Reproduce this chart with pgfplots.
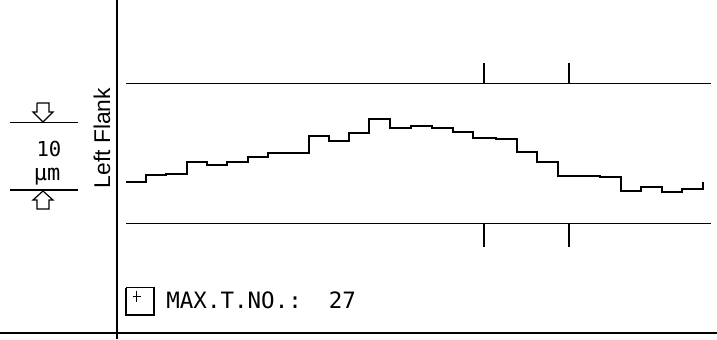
\documentclass[border=0pt]{standalone}
\usepackage{pgfplots}
\pgfplotsset{compat=1.18}
\usepackage{fontspec}
\setmainfont{Liberation Sans}
\newfontfamily\plotter{DejaVu Sans Mono}
\newfontfamily\labelfont{Liberation Sans}
\begin{document}
\begin{tikzpicture}
\useasboundingbox (0,0) rectangle (358.5pt,169.5pt);
\begin{axis}[
  scale only axis, width=358.5pt, height=169.5pt,
  xmin=0, xmax=717, ymin=0, ymax=339, y dir=reverse,
  hide axis, clip=false,
]
% frame lines
\addplot[black, line width=1pt] coordinates {(117,0) (117,339)};
\addplot[black, line width=1.1pt] coordinates {(0,333.3) (717,333.3)};
% tolerance / reference lines
\addplot[black, line width=0.65pt] coordinates {(126,83.5) (711,83.5)};
\addplot[black, line width=0.65pt] coordinates {(126,223.8) (711,223.8)};
% tick marks
\addplot[black, line width=0.65pt] coordinates {(484,63) (484,83.5)};
\addplot[black, line width=0.65pt] coordinates {(569,63) (569,83.5)};
\addplot[black, line width=0.65pt] coordinates {(484,223.8) (484,247)};
\addplot[black, line width=0.65pt] coordinates {(569,223.8) (569,247)};
% measured profile
\addplot[black, line width=1pt, const plot] coordinates {
(126,182)(146,175)(166,173.5)(187,161.7)(207,165)(227,162)(248,157)(268,152.7)
(309,136)(329,140.7)(349,133)(369,119.3)(390,127.7)(411,125.7)(432,128.3)
(453,131.7)(473,137.7)(496,139)(517,152.3)(537,161.7)(558,176.2)(600,177.3)
(621,191)(641,186.7)(662,192)(682,189.3)(703,189.3)(703,182.3)};
% scale bar
\addplot[black, line width=0.6pt] coordinates {(10,122.7) (78,122.7)};
\addplot[black, line width=0.6pt] coordinates {(10,190) (78,190)};
\addplot[black, line width=0.6pt] coordinates {(37,103) (49,103) (49,112) (53,112) (43,122) (33,112) (37,112) (37,103)};
\addplot[black, line width=0.6pt] coordinates {(43,191) (53,200) (49,200) (49,209) (37,209) (37,200) (33,200) (43,191)};
\node[anchor=base, inner sep=0pt, font=\plotter\fontsize{10.3}{12}\selectfont] at (axis cs:49,156) {10};
\node[anchor=base, inner sep=0pt, font=\plotter\fontsize{11}{13}\selectfont] at (axis cs:47,180) {µm};
\node[anchor=base, rotate=90, inner sep=0pt, font=\labelfont\fontsize{11.4}{13}\selectfont] at (axis cs:110,138) {Left Flank};
% legend box
\addplot[black, line width=0.6pt] coordinates {(126,287.5) (154,287.5) (154,315) (126,315) (126,287.5)};
\addplot[black, line width=0.5pt] coordinates {(132.5,296) (140.5,296)};
\addplot[black, line width=0.5pt] coordinates {(136.5,290.5) (136.5,302)};
\node[anchor=base west, inner sep=0pt, font=\plotter\fontsize{11.25}{13}\selectfont] at (axis cs:166,308.3) {MAX.T.NO.:\ \ 27};
\end{axis}
\end{tikzpicture}
\end{document}
